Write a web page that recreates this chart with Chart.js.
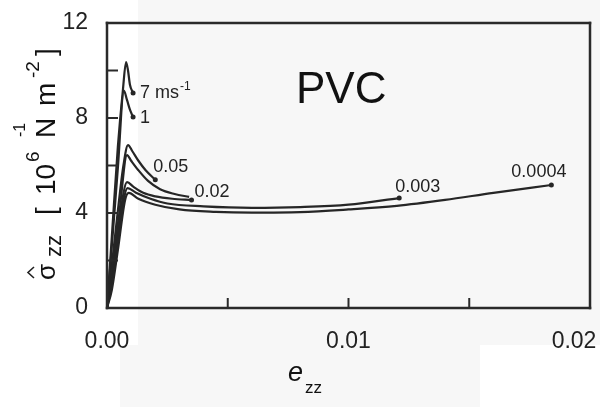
<!DOCTYPE html>
<html>
<head>
<meta charset="utf-8">
<script src="https://cdn.jsdelivr.net/npm/chart.js@4.4.1/dist/chart.umd.min.js"></script>
<style>
html,body{margin:0;padding:0;background:#fff;}
#wrap{width:600px;height:407px;position:relative;}
canvas{display:block;}
</style>
</head>
<body>
<div id="wrap"><canvas id="c" width="600" height="407"></canvas></div>
<script>
// ---- data (strain e_zz, stress in 10^6 N m^-2) ----
const rateLabels = ["7 ms", "1", "0.05", "", "0.02", "0.003", "0.0004"];

const strain7 = [0, 0.0002, 0.00045, 0.00066, 0.00079, 0.00087, 0.00095, 0.00108];
const stress7 = [0, 3.0, 6.8, 9.2, 10.35, 10.0, 9.4, 9.05];

const strain1 = [0, 0.0002, 0.00045, 0.0007, 0.00083, 0.00095, 0.00108];
const stress1 = [0, 2.6, 5.9, 9.15, 8.75, 8.35, 8.04];

const strain005 = [0, 0.0002, 0.00045, 0.00068, 0.00087, 0.00105, 0.0013, 0.0016, 0.002];
const stress005 = [0, 1.8, 4.1, 6.0, 6.86, 6.6, 6.2, 5.8, 5.4];

const strain005b = [0, 0.0002, 0.0005, 0.00083, 0.001, 0.0013, 0.0017, 0.0022, 0.0028, 0.0034];
const stress005b = [0, 1.6, 3.9, 6.44, 6.2, 5.8, 5.35, 5.0, 4.8, 4.68];

const strain002 = [0, 0.0002, 0.00045, 0.00083, 0.0011, 0.0015, 0.002, 0.0027, 0.0035];
const stress002 = [0, 1.3, 3.2, 5.3, 5.1, 4.85, 4.7, 4.6, 4.55];

const strain0003 = [0, 0.0002, 0.00045, 0.00085, 0.0012, 0.0018, 0.0025, 0.004, 0.006, 0.008, 0.010, 0.0121];
const stress0003 = [0, 1.0, 2.8, 5.05, 4.85, 4.6, 4.4, 4.28, 4.22, 4.25, 4.35, 4.63];

const strain00004 = [0, 0.0002, 0.00045, 0.00075, 0.0009, 0.0013, 0.002, 0.003, 0.0045, 0.006, 0.008, 0.010, 0.012, 0.014, 0.016, 0.0184];
const stress00004 = [0, 0.76, 2.44, 4.55, 4.85, 4.6, 4.35, 4.15, 4.05, 4.02, 4.04, 4.15, 4.3, 4.55, 4.85, 5.18];

const yTickLabels = ["0", "4", "8", "12"];
const xTickLabels = ["0.00", "0.01", "0.02"];

// ---- build ----
const seriesX = [strain7, strain1, strain005, strain005b, strain002, strain0003, strain00004];
const seriesY = [stress7, stress1, stress005, stress005b, stress002, stress0003, stress00004];
const hasMarker = [true, true, true, false, true, true, true];
// label offsets (px) relative to the series' end point
const labelOffset = [[7, 5], [7, 6], [-2, -8], [0, 0], [3, -3], [-4, -6], [-40, -8]];

const LINE = '#262626';
const FONT = '"Liberation Sans", Arial, sans-serif';

const datasets = seriesX.map((xs, i) => ({
  data: xs.map((x, j) => ({x: x, y: seriesY[i][j]})),
  borderColor: LINE,
  backgroundColor: LINE,
  borderWidth: 2.2,
  pointRadius: xs.map((_, j) => (hasMarker[i] && j === xs.length - 1) ? 2.5 : 0),
  pointBorderWidth: 0,
  cubicInterpolationMode: 'monotone',
  fill: false
}));

const bgPlugin = {
  id: 'bg',
  beforeDraw(chart) {
    const ctx = chart.ctx;
    ctx.save();
    ctx.fillStyle = '#ffffff';
    ctx.fillRect(0, 0, chart.width, chart.height);
    ctx.fillStyle = '#f7f7f7';
    ctx.fillRect(138, 0, 462, 345);
    ctx.fillRect(120, 345, 360, 62);
    ctx.restore();
  }
};

const decoPlugin = {
  id: 'deco',
  afterDraw(chart) {
    const ctx = chart.ctx;
    const a = chart.chartArea;
    const xs = chart.scales.x, ys = chart.scales.y;
    ctx.save();
    // frame (filled bars so every side is solid)
    ctx.fillStyle = '#2a2a2a';
    const bw = 2.5, h = bw / 2;
    ctx.fillRect(a.left - h, a.top - h, a.right - a.left + bw, bw);
    ctx.fillRect(a.left - h, a.bottom - h, a.right - a.left + bw, bw);
    ctx.fillRect(a.left - h, a.top - h, bw, a.bottom - a.top + bw);
    ctx.fillRect(a.right - h, a.top - h, bw, a.bottom - a.top + bw);
    // inward ticks
    ctx.strokeStyle = '#2a2a2a';
    ctx.lineWidth = 2;
    ys.ticks.forEach(t => {
      if (t.value <= ys.min || t.value >= ys.max) return;
      const p = ys.getPixelForValue(t.value);
      ctx.beginPath(); ctx.moveTo(a.left, p); ctx.lineTo(a.left + 11, p); ctx.stroke();
    });
    xs.ticks.forEach(t => {
      if (t.value <= xs.min || t.value >= xs.max) return;
      const p = xs.getPixelForValue(t.value);
      ctx.beginPath(); ctx.moveTo(p, a.bottom); ctx.lineTo(p, a.bottom - 10); ctx.stroke();
    });

    // curve labels at series end points
    ctx.fillStyle = '#222';
    ctx.textBaseline = 'alphabetic';
    ctx.textAlign = 'left';
    seriesX.forEach((sx, i) => {
      const txt = rateLabels[i];
      if (!txt) return;
      const n = sx.length - 1;
      const px = xs.getPixelForValue(sx[n]) + labelOffset[i][0];
      const py = ys.getPixelForValue(seriesY[i][n]) + labelOffset[i][1];
      ctx.font = '18px ' + FONT;
      ctx.fillText(txt, px, py);
      if (i === 0) {
        const w = ctx.measureText(txt).width;
        ctx.font = '12px ' + FONT;
        ctx.fillText('-1', px + w + 1, py - 8);
      }
    });

    // PVC
    ctx.font = '44px ' + FONT;
    ctx.fillStyle = '#111';
    ctx.fillText('PVC', 296, 103);

    // x title e_zz
    ctx.font = 'italic 27px ' + FONT;
    ctx.fillText('e', 288, 381);
    ctx.font = '17px ' + FONT;
    ctx.fillText('zz', 305, 393);

    // y title (rotated)
    ctx.translate(55, 282);
    ctx.rotate(-Math.PI / 2);
    const piece = (t, u, v, size) => { ctx.font = size + 'px ' + FONT; ctx.fillText(t, u, v); };
    piece('\u03C3', 2, 0, 26);
    ctx.beginPath();
    ctx.lineWidth = 1.6;
    ctx.strokeStyle = '#222';
    ctx.moveTo(4, -21); ctx.lineTo(9.5, -27); ctx.lineTo(15, -21);
    ctx.stroke();
    piece('zz', 25, 6, 22);
    piece('[', 67, 0, 28);
    piece('10', 87, 0, 28);
    piece('6', 120, -16, 19);
    piece('-1', 145, -30, 16);
    piece('N', 144, 0, 28);
    piece('m', 176, 0, 28);
    piece('-2', 204, -16, 19);
    piece(']', 226, 0, 28);
    ctx.restore();
  }
};

new Chart(document.getElementById('c'), {
  type: 'line',
  data: { datasets },
  options: {
    responsive: false,
    animation: false,
    devicePixelRatio: 1,
    layout: { padding: { left: 0, top: 23, right: 10, bottom: 0 } },
    plugins: { legend: { display: false }, tooltip: { enabled: false } },
    scales: {
      x: {
        type: 'linear', min: 0, max: 0.02,
        grid: { display: false, drawTicks: false },
        border: { display: false },
        afterFit(s) { s.height = 99; s.paddingLeft = 0; s.paddingRight = 0; },
        afterBuildTicks(s) {
          s.ticks = [0, 0.005, 0.01, 0.015, 0.02].map(v => ({ value: v }));
        },
        ticks: {
          padding: 20,
          color: '#222',
          font: { family: FONT, size: 23 },
          maxRotation: 0,
          autoSkip: false,
          callback(v) {
            const k = Math.round(v / 0.01 * 2);
            if (k % 2 !== 0) return '';
            // last label sits inside the picture's right edge
            return k === 4 ? xTickLabels[2] + '     ' : xTickLabels[k / 2];
          }
        }
      },
      y: {
        type: 'linear', min: 0, max: 12,
        grid: { display: false, drawTicks: false },
        border: { display: false },
        afterFit(s) { s.width = 107; s.paddingTop = 0; s.paddingBottom = 0; },
        ticks: {
          stepSize: 2,
          padding: 19,
          color: '#222',
          font: { family: FONT, size: 23 },
          autoSkip: false,
          callback(v) { return (v % 4 === 0) ? yTickLabels[v / 4] : ''; }
        }
      }
    }
  },
  plugins: [bgPlugin, decoPlugin]
});
</script>
</body>
</html>
